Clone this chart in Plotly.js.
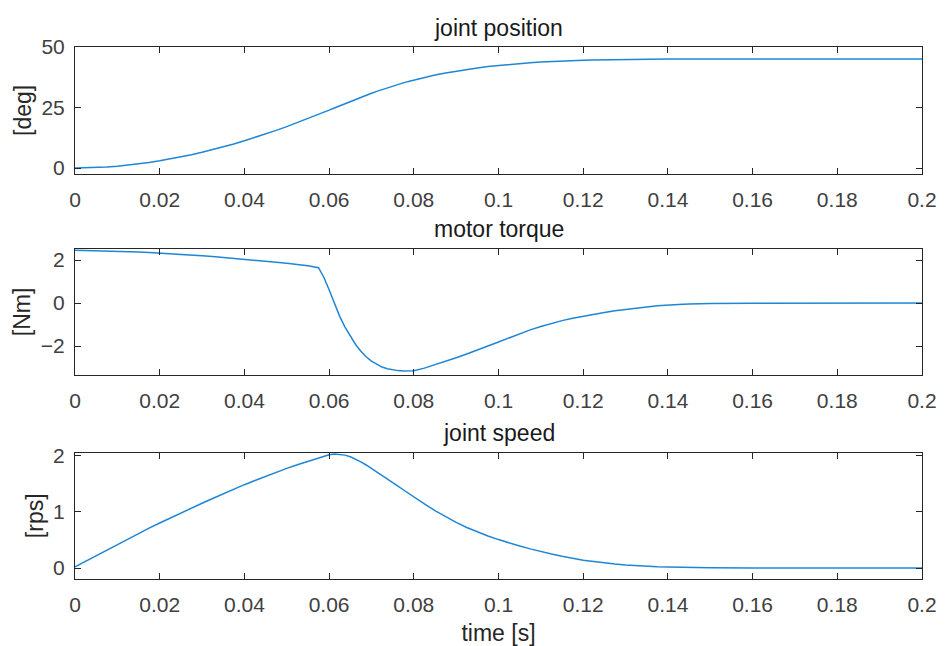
<!DOCTYPE html>
<html>
<head>
<meta charset="utf-8">
<script src="https://cdn.plot.ly/plotly-3.0.1.min.js"></script>
<style>
  html, body { margin: 0; padding: 0; background: #ffffff; }
  #plot { width: 946px; height: 646px; }
</style>
</head>
<body>
<div id="plot"></div>
<script>
// Sample times [s] (finer spacing through the braking phase)
const time = [
  0, 0.0025, 0.005, 0.0075, 0.01, 0.0125, 0.015, 0.0175,
  0.02, 0.0225, 0.025, 0.0275, 0.03, 0.0325, 0.035, 0.0375,
  0.04, 0.0425, 0.045, 0.0475, 0.05, 0.0525, 0.055, 0.0575,
  0.05875, 0.06, 0.06125, 0.0625, 0.06375, 0.065, 0.06625, 0.0675,
  0.06875, 0.07, 0.07125, 0.0725, 0.07375, 0.075, 0.07625, 0.0775,
  0.07875, 0.08, 0.0825, 0.085, 0.0875, 0.09, 0.0925, 0.095, 0.0975,
  0.1, 0.1025, 0.105, 0.1075, 0.11, 0.1125, 0.115, 0.1175,
  0.12, 0.1225, 0.125, 0.1275, 0.13, 0.1325, 0.135, 0.1375,
  0.14, 0.1425, 0.145, 0.1475, 0.15, 0.16, 0.17, 0.18, 0.19, 0.2
];

// Joint position [deg]
const jointPosition = [
  0, 0.06, 0.22, 0.46, 0.79, 1.21, 1.72, 2.31,
  2.99, 3.75, 4.59, 5.51, 6.51, 7.58, 8.73, 9.95,
  11.25, 12.62, 14.05, 15.55, 17.11, 18.73, 20.41, 22.14,
  23.03, 23.92, 24.83, 25.73, 26.64, 27.53, 28.41, 29.26,
  30.09, 30.90, 31.68, 32.44, 33.17, 33.87, 34.54, 35.18,
  35.79, 36.37, 37.45, 38.42, 39.29, 40.06, 40.75, 41.36, 41.90,
  42.38, 42.81, 43.19, 43.52, 43.80, 44.04, 44.25, 44.42,
  44.56, 44.67, 44.76, 44.83, 44.89, 44.93, 44.97, 44.99,
  45.01, 45.02, 45.03, 45.04, 45.04, 45.05, 45.05, 45.05, 45.05, 45.05
];

// Motor torque [Nm]
const motorTorque = [
  2.46, 2.450, 2.438, 2.424, 2.408, 2.389, 2.368, 2.345,
  2.32, 2.293, 2.263, 2.231, 2.198, 2.161, 2.123, 2.083,
  2.04, 1.995, 1.948, 1.899, 1.848, 1.794, 1.738, 1.64,
  1.20, 0.62, -0.02, -0.62, -1.12, -1.56, -1.93, -2.24,
  -2.50, -2.70, -2.86, -2.98, -3.06, -3.11, -3.145, -3.16,
  -3.165, -3.15, -3.03, -2.88, -2.72, -2.55, -2.37, -2.20, -2.00,
  -1.81, -1.62, -1.43, -1.25, -1.09, -0.95, -0.82, -0.71,
  -0.61, -0.52, -0.44, -0.36, -0.29, -0.23, -0.18, -0.13,
  -0.09, -0.07, -0.05, -0.03, -0.02, -0.01, 0, 0, 0, 0
];

// Joint speed [rps]
const jointSpeed = [
  0.02, 0.12, 0.22, 0.32, 0.42, 0.515, 0.61, 0.71,
  0.80, 0.89, 0.98, 1.065, 1.15, 1.235, 1.32, 1.40,
  1.48, 1.555, 1.63, 1.70, 1.77, 1.835, 1.895, 1.955,
  1.985, 2.01, 2.025, 2.02, 2.005, 1.975, 1.935, 1.885,
  1.83, 1.77, 1.71, 1.65, 1.585, 1.52, 1.455, 1.39,
  1.325, 1.26, 1.14, 1.02, 0.91, 0.81, 0.72, 0.64, 0.57,
  0.505, 0.445, 0.39, 0.34, 0.29, 0.25, 0.21, 0.17,
  0.14, 0.115, 0.09, 0.07, 0.055, 0.042, 0.032, 0.024,
  0.018, 0.013, 0.009, 0.006, 0.004, 0.001, 0, 0, 0, 0
];

// Tick labels
const timeTickVals = [0, 0.02, 0.04, 0.06, 0.08, 0.1, 0.12, 0.14, 0.16, 0.18, 0.2];
const timeTickText = ['0', '0.02', '0.04', '0.06', '0.08', '0.1', '0.12', '0.14', '0.16', '0.18', '0.2'];
const positionTicks = [0, 25, 50];
const torqueTicks = [-2, 0, 2];
const speedTicks = [0, 1, 2];

const subplotTitles = ['joint position', 'motor torque', 'joint speed'];
const unitLabels = ['[deg]', '[Nm]', '[rps]'];

const ink = '#262626';
const lineColor = '#1f86d6';
const fontFamily = '"Liberation Sans", Arial, Helvetica, sans-serif';
const tickSize = 21;
const labelSize = 23;

function makeTrace(y, axisIndex) {
  const suffix = axisIndex === 1 ? '' : String(axisIndex);
  return {
    x: time, y: y, type: 'scatter', mode: 'lines',
    xaxis: 'x' + suffix, yaxis: 'y' + suffix,
    line: { color: lineColor, width: 1.5 },
    hoverinfo: 'x+y', showlegend: false
  };
}

function xAxis(domainAnchor, withTitle) {
  const ax = {
    domain: [0, 1], anchor: domainAnchor,
    range: [0, 0.2], tickmode: 'array',
    tickvals: timeTickVals, ticktext: timeTickText,
    ticks: 'inside', ticklen: 6, tickwidth: 1, tickcolor: ink,
    showline: true, linecolor: ink, linewidth: 1, mirror: 'ticks',
    showgrid: false, zeroline: false,
    tickfont: { family: fontFamily, size: tickSize, color: '#404040' },
    ticklabelstandoff: 7
  };
  if (withTitle) {
    ax.title = { text: 'time [s]', font: { family: fontFamily, size: labelSize, color: ink }, standoff: 11 };
  }
  return ax;
}

function yAxis(domain, range, ticks, label, xAnchor) {
  return {
    domain: domain, anchor: xAnchor, range: range,
    tickmode: 'array', tickvals: ticks,
    ticks: 'inside', ticklen: 6, tickwidth: 1, tickcolor: ink,
    showline: true, linecolor: ink, linewidth: 1, mirror: 'ticks',
    showgrid: false, zeroline: false,
    tickfont: { family: fontFamily, size: tickSize, color: '#404040' },
    ticklabelstandoff: 5,
    title: { text: label, font: { family: fontFamily, size: labelSize, color: ink }, standoff: 3 }
  };
}

const titleY = [1.035, 0.657, 0.274];

const layout = {
  width: 946, height: 646,
  margin: { l: 75, r: 24, t: 47, b: 67, pad: 0 },
  paper_bgcolor: '#ffffff', plot_bgcolor: '#ffffff',
  font: { family: fontFamily, color: ink },
  xaxis: xAxis('y', false),
  xaxis2: xAxis('y2', false),
  xaxis3: xAxis('y3', true),
  yaxis: yAxis([0.762, 1.0], [-2.3, 50], positionTicks, unitLabels[0], 'x'),
  yaxis2: yAxis([0.383, 0.621], [-3.36, 2.53], torqueTicks, unitLabels[1], 'x2'),
  yaxis3: yAxis([0, 0.2376], [-0.195, 2.05], speedTicks, unitLabels[2], 'x3'),
  annotations: subplotTitles.map((t, i) => ({
    text: t, xref: 'paper', yref: 'paper', x: 0.5, y: titleY[i],
    xanchor: 'center', yanchor: 'middle', showarrow: false,
    font: { family: fontFamily, size: labelSize, color: '#1a1a1a' }
  }))
};

Plotly.newPlot('plot', [
  makeTrace(jointPosition, 1),
  makeTrace(motorTorque, 2),
  makeTrace(jointSpeed, 3)
], layout, { displayModeBar: false, staticPlot: true });
</script>
</body>
</html>
